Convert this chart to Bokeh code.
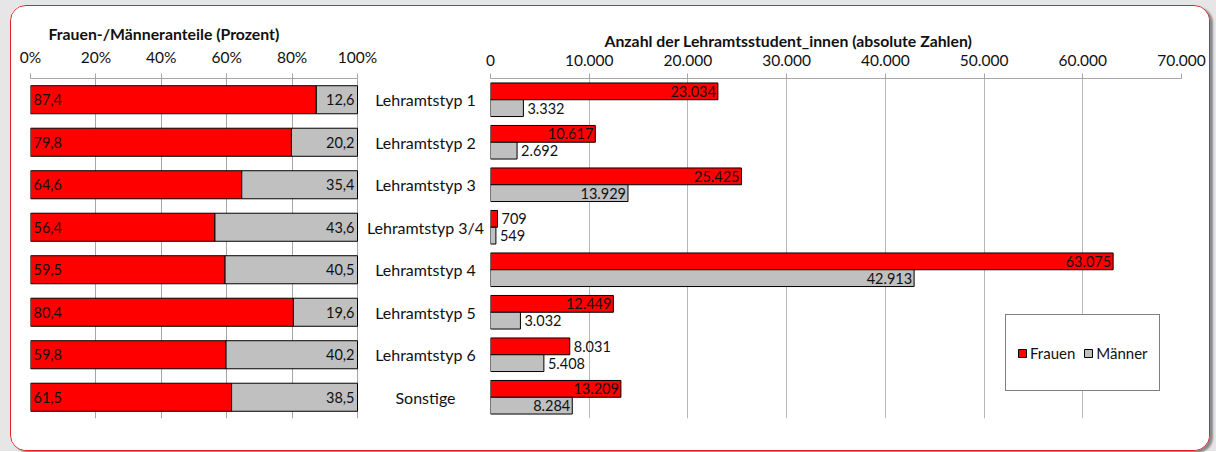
from bokeh.plotting import figure
from bokeh.models import FactorRange, Range1d, FixedTicker, ColumnDataSource, Legend, LegendItem
from bokeh.transform import dodge
from bokeh.layouts import row, column
from bokeh.core.properties import value
from bokeh.embed import file_html
from bokeh.resources import INLINE

# ---------------- data ----------------
categories = ["Lehramtstyp 1", "Lehramtstyp 2", "Lehramtstyp 3", "Lehramtstyp 3/4",
              "Lehramtstyp 4", "Lehramtstyp 5", "Lehramtstyp 6", "Sonstige"]
frauen_pct = [87.4, 79.8, 64.6, 56.4, 59.5, 80.4, 59.8, 61.5]
maenner_pct = [12.6, 20.2, 35.4, 43.6, 40.5, 19.6, 40.2, 38.5]
frauen_abs = [23034, 10617, 25425, 709, 63075, 12449, 8031, 13209]
maenner_abs = [3332, 2692, 13929, 549, 42913, 3032, 5408, 8284]
pct_ticks = [0, 20, 40, 60, 80, 100]
abs_ticks = [0, 10000, 20000, 30000, 40000, 50000, 60000, 70000]
series_names = ["Frauen", "Männer"]
title_left = "Frauen-/Männeranteile (Prozent)"
title_right = "Anzahl der Lehramtsstudent_innen (absolute Zahlen)"

# label placement (style): value label inside the bar end or outside
frauen_label_inside = [True, True, True, False, True, True, False, True]
maenner_label_inside = [False, False, True, False, True, False, False, True]

# ---------------- style ----------------
FONT = "Lato"
RED = "#ff0000"
GRAY = "#c0c0c0"
GRID = "#a6a6a6"
TXT = "#111111"
H = 444
TOP = 72
BOTTOM = 32
PCT_PANEL_PX = 327      # pixel width of the 0-100 % panel
LEFT_FRAME_PX = 455     # left frame incl. the category label column
CAT_LABEL_OFFSET = 68   # px from the 100 % edge to the label centre


def fmt_pct(v):
    return f"{v:.1f}".replace(".", ",")


def fmt_abs(v):
    return f"{v:,}".replace(",", ".")


y_range = FactorRange(factors=categories[::-1])


def style_axis(p, ticks, overrides):
    ax = p.xaxis[0]
    ax.ticker = FixedTicker(ticks=ticks)
    ax.major_label_overrides = overrides
    ax.axis_line_color = GRID
    ax.major_tick_line_color = GRID
    ax.major_tick_out = 5
    ax.major_tick_in = 0
    ax.minor_tick_line_color = None
    ax.major_label_text_font = FONT
    ax.major_label_text_font_size = "15.5px"
    ax.major_label_text_color = TXT
    ax.major_label_standoff = 8
    ax.bounds = (ticks[0], ticks[-1])
    p.xgrid.grid_line_color = GRID
    p.xgrid.ticker = FixedTicker(ticks=ticks)
    p.ygrid.grid_line_color = None
    p.outline_line_color = None
    p.title.text_font = FONT
    p.title.text_font_size = "15.8px"
    p.title.text_font_style = "bold"
    p.title.text_color = TXT
    p.title.align = "left"
    p.title.vertical_align = "bottom"
    p.title.standoff = 3


# ---------------- left: shares + category labels ----------------
src_pct = ColumnDataSource(dict(
    cat=categories, f=frauen_pct, m=maenner_pct,
    total=[a + b for a, b in zip(frauen_pct, maenner_pct)],
    f_lab=[fmt_pct(v) for v in frauen_pct],
    m_lab=[fmt_pct(v) for v in maenner_pct],
    zero=[0] * len(categories),
))

left = figure(width=19 + LEFT_FRAME_PX, height=H,
              x_range=Range1d(0, 100 * LEFT_FRAME_PX / PCT_PANEL_PX), y_range=y_range,
              x_axis_location="above", y_axis_location=None,
              output_backend="svg", toolbar_location=None,
              min_border_left=19, min_border_right=0,
              min_border_top=TOP, min_border_bottom=BOTTOM,
              title=title_left, background_fill_color="white", border_fill_color="white")
style_axis(left, pct_ticks, {t: f"{t}%" for t in pct_ticks})
left.title.offset = 18

left.hbar(y="cat", left="zero", right="f", height=0.66, source=src_pct,
          fill_color=RED, line_color="black", line_width=1)
left.hbar(y="cat", left="f", right="total", height=0.66, source=src_pct,
          fill_color=GRAY, line_color="black", line_width=1)
left.text(x="zero", y="cat", text="f_lab", source=src_pct, x_offset=3,
          text_align="left", text_baseline="middle", text_font=value(FONT),
          text_font_size="14.5px", text_color=TXT)
left.text(x="total", y="cat", text="m_lab", source=src_pct, x_offset=-3,
          text_align="right", text_baseline="middle", text_font=value(FONT),
          text_font_size="14.5px", text_color=TXT)
# category labels, centred in the column right of the 100 % edge
left.text(x="total", y="cat", text="cat", source=src_pct, x_offset=CAT_LABEL_OFFSET,
          text_align="center", text_baseline="middle", text_font=value(FONT),
          text_font_size="16px", text_color=TXT)

# ---------------- right: absolute numbers ----------------
BH = 0.395
src_abs = ColumnDataSource(dict(
    cat=categories, f=frauen_abs, m=maenner_abs,
    zero=[0] * len(categories),
    f_lab=[fmt_abs(v) for v in frauen_abs],
    m_lab=[fmt_abs(v) for v in maenner_abs],
    f_align=["right" if i else "left" for i in frauen_label_inside],
    m_align=["right" if i else "left" for i in maenner_label_inside],
    f_off=[-2 if i else 4 for i in frauen_label_inside],
    m_off=[-2 if i else 4 for i in maenner_label_inside],
))

right = figure(width=1198 - (19 + LEFT_FRAME_PX), height=H,
               x_range=Range1d(0, 70000), y_range=y_range,
               x_axis_location="above", y_axis_location=None,
               output_backend="svg", toolbar_location=None,
               min_border_left=5, min_border_right=28,
               min_border_top=TOP, min_border_bottom=BOTTOM,
               title=title_right, background_fill_color="white", border_fill_color="white")
style_axis(right, abs_ticks, {t: fmt_abs(t) for t in abs_ticks})
right.xgrid.grid_line_color = "#b8b8b8"
right.title.offset = 114

rf = right.hbar(y=dodge("cat", BH / 2, range=y_range), left="zero", right="f", height=BH,
                source=src_abs, fill_color=RED, line_color="black", line_width=1)
rm = right.hbar(y=dodge("cat", -BH / 2, range=y_range), left="zero", right="m", height=BH,
                source=src_abs, fill_color=GRAY, line_color="black", line_width=1)
right.text(x="f", y=dodge("cat", BH / 2, range=y_range), text="f_lab", source=src_abs,
           x_offset="f_off", text_align="f_align", text_baseline="middle",
           text_font=value(FONT), text_font_size="14.5px", text_color=TXT)
right.text(x="m", y=dodge("cat", -BH / 2, range=y_range), text="m_lab", source=src_abs,
           x_offset="m_off", text_align="m_align", text_baseline="middle",
           text_font=value(FONT), text_font_size="14.5px", text_color=TXT)

legend = Legend(items=[LegendItem(label=series_names[0], renderers=[rf]),
                       LegendItem(label=series_names[1], renderers=[rm])],
                orientation="horizontal", location=(515, 27),
                glyph_width=10, glyph_height=10, label_standoff=3, spacing=8,
                padding=11, margin=0, label_height=53,
                label_text_font=FONT, label_text_font_size="15px", label_text_color=TXT,
                border_line_color="black", border_line_width=1,
                background_fill_color="white", background_fill_alpha=1)
right.add_layout(legend, "center")

frame = row(left, right, styles={
    "border": "1px solid #e3202a",
    "border-radius": "16px",
    "background-color": "white",
    "overflow": "hidden",
    "box-shadow": "3px 2px 2px #8a8a8a",
})
p = column(frame, styles={"background-color": "#e6e6e6",
                          "padding": "5px 6px 0px 10px"})

open("out.html", "w").write(file_html(p, INLINE))
